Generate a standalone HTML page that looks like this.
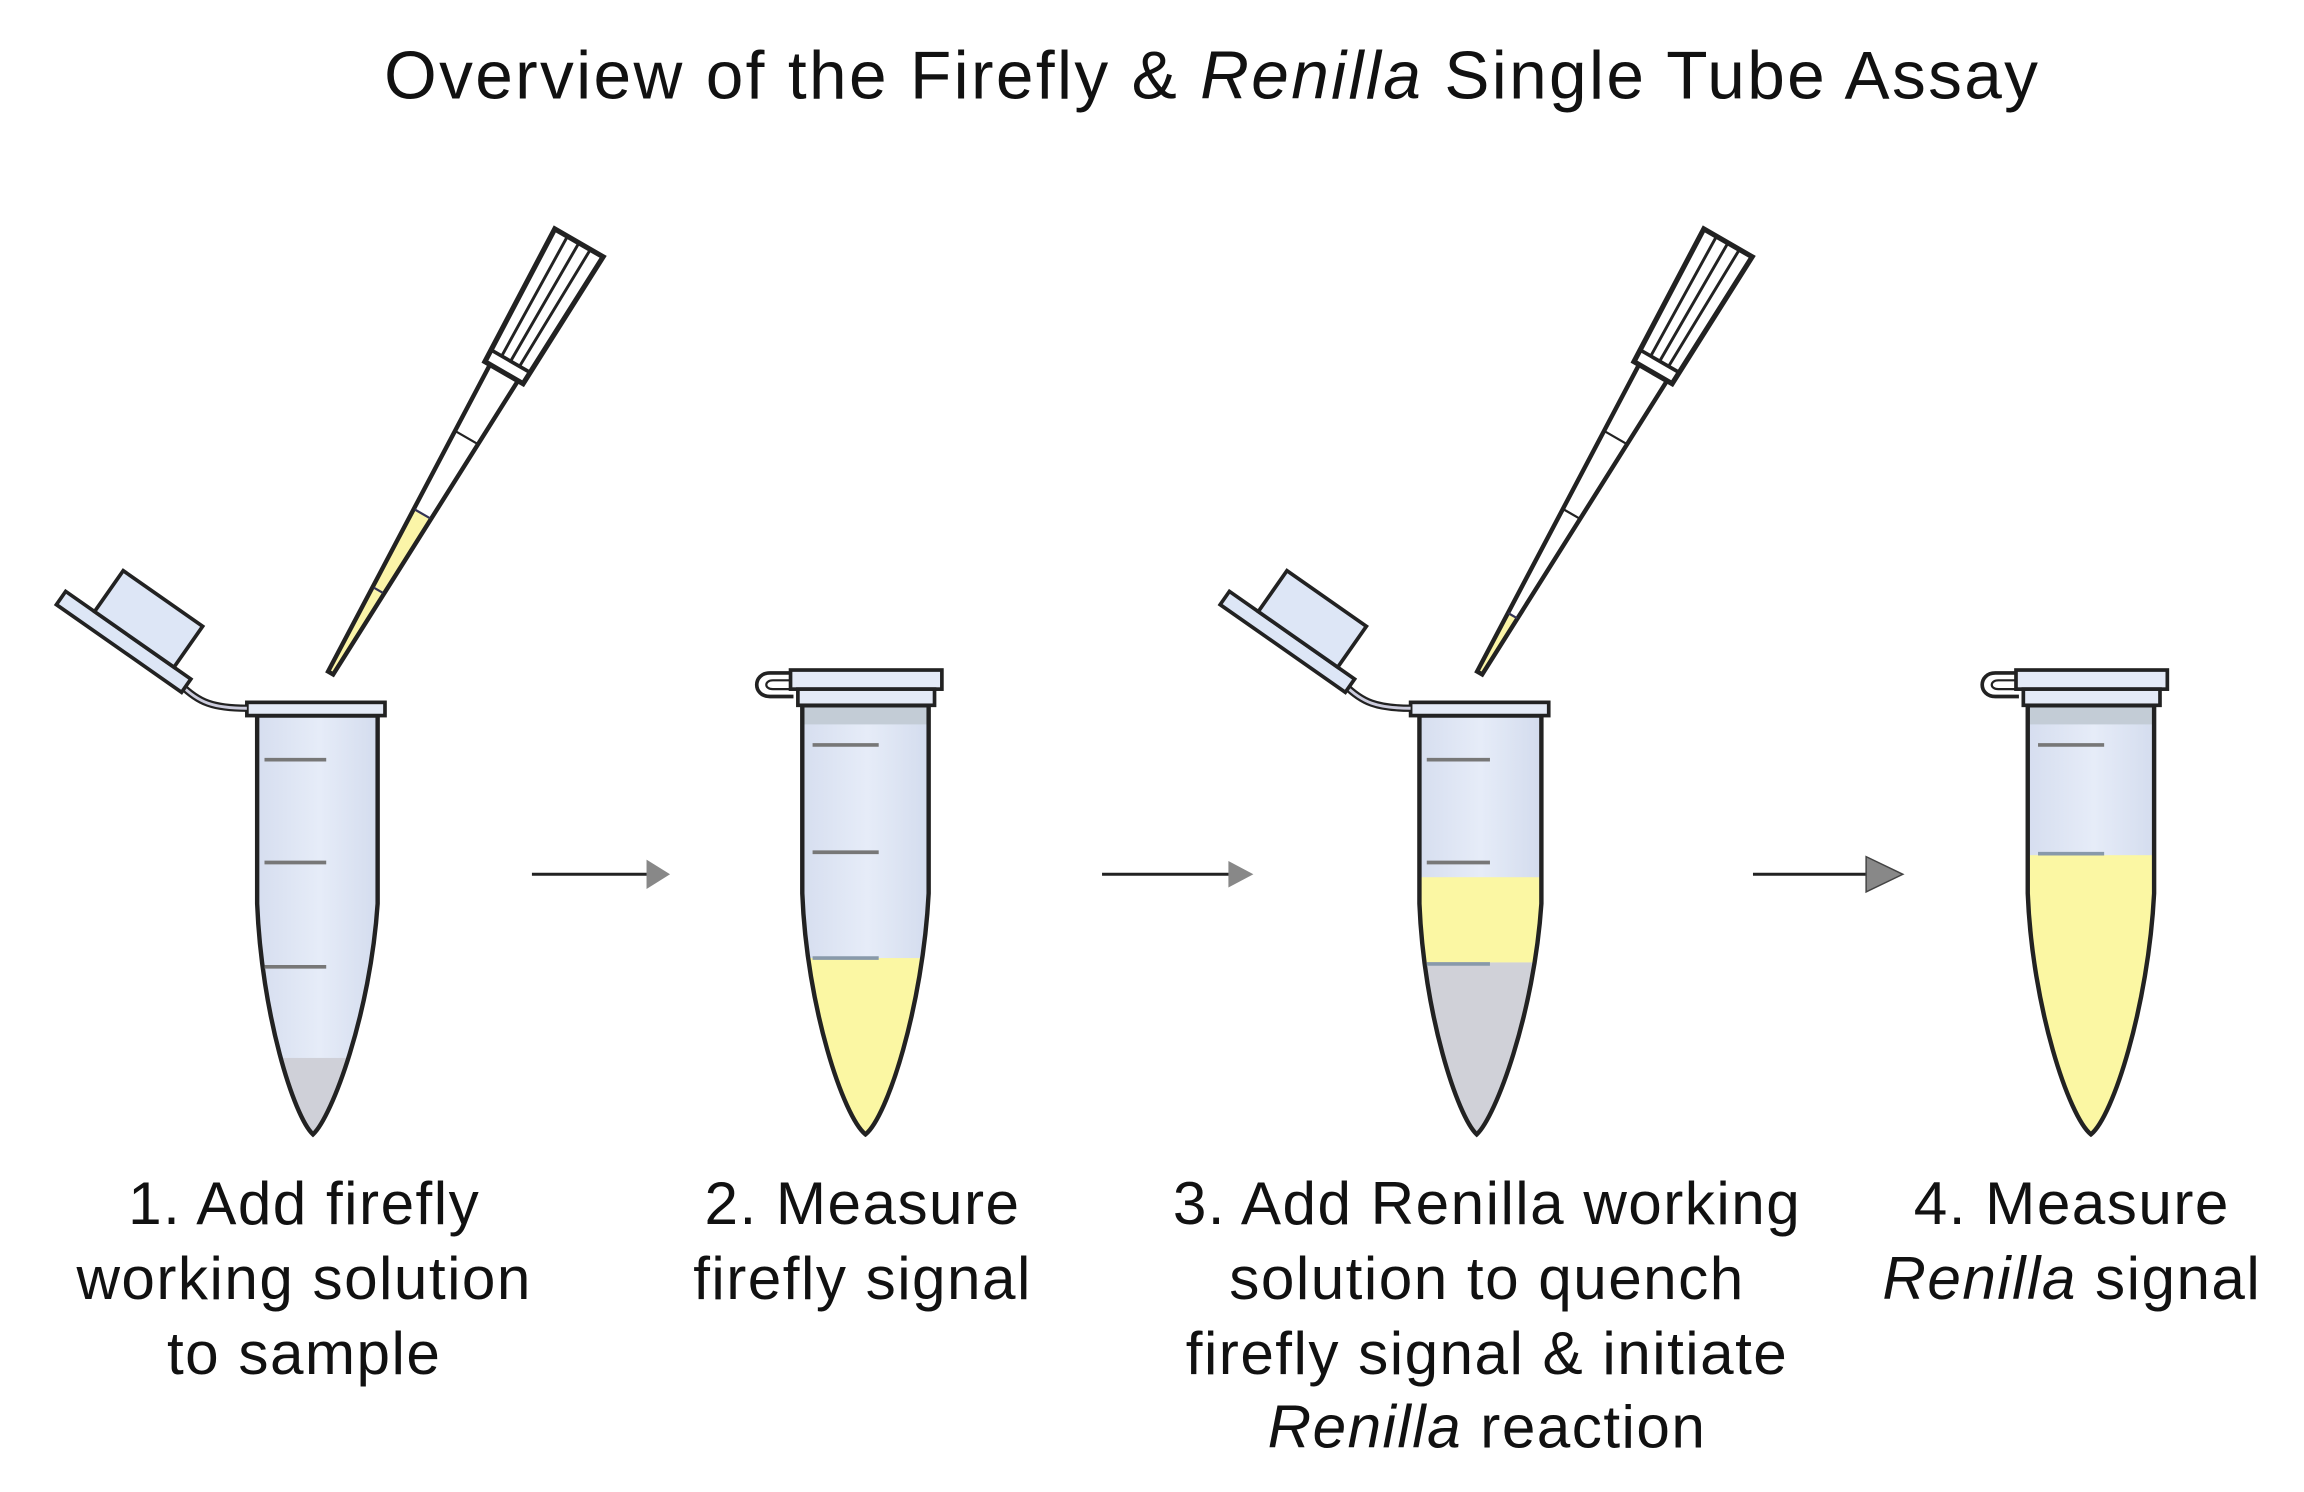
<!DOCTYPE html>
<html><head><meta charset="utf-8"><style>
html,body{margin:0;padding:0;background:#fff;}
svg{display:block}
text{font-family:"Liberation Sans",sans-serif;fill:#111;}
</style></head><body>
<svg width="2304" height="1492" viewBox="0 0 1568 1015.4" xmlns="http://www.w3.org/2000/svg">
<defs>
<linearGradient id="tb" x1="0" x2="1" y1="0" y2="0">
<stop offset="0" stop-color="#d4dcee"/><stop offset="0.5" stop-color="#e6ecf8"/><stop offset="1" stop-color="#d0d9ec"/>
</linearGradient>
<clipPath id="c1"><path d="M175,487 L175,615 C178,690 200,760 213,772 C226,760 252,690 257,615 L257,487 Z"/></clipPath>
<clipPath id="c2"><path d="M546,480 L546,608 C549,685 574,760 589,772 C604,760 628,685 632,608 L632,480 Z"/></clipPath>
<clipPath id="c3"><path d="M966,487 L966,615 C969,690 992,760 1005,772 C1018,760 1044,690 1049,615 L1049,487 Z"/></clipPath>
<clipPath id="c4"><path d="M1380,480 L1380,608 C1383,685 1408,760 1423,772 C1438,760 1462,685 1466,608 L1466,480 Z"/></clipPath>
</defs>

<text x="825" y="67" font-size="46" letter-spacing="1.6" text-anchor="middle">Overview of the Firefly &amp; <tspan font-style="italic">Renilla</tspan> Single Tube Assay</text>

<!-- Tube 1 -->
<g>
<g clip-path="url(#c1)">
<rect x="170" y="480" width="95" height="300" fill="url(#tb)"/>
<rect x="170" y="720" width="95" height="60" fill="#cfd0d8"/>
</g>
<path d="M175,487 L175,615 C178,690 200,760 213,772 C226,760 252,690 257,615 L257,487 Z" fill="none" stroke="#222" stroke-width="3"/>
<line x1="180" y1="517" x2="222" y2="517" stroke="#777" stroke-width="2.5"/>
<line x1="180" y1="587" x2="222" y2="587" stroke="#777" stroke-width="2.5"/>
<line x1="180" y1="658" x2="222" y2="658" stroke="#777" stroke-width="2.5"/>
<rect x="168" y="478" width="94" height="9" fill="#e4eaf6" stroke="#222" stroke-width="2.5"/>
<path d="M123,466 C135,478 145,482 168,482" fill="none" stroke="#222" stroke-width="5"/>
<path d="M123,466 C135,478 145,482 168,482" fill="none" stroke="#ccd" stroke-width="2"/>
<g transform="translate(84,430) rotate(35)">
<rect x="-48" y="0" width="104" height="11" fill="#dde6f6" stroke="#222" stroke-width="2.5"/>
<rect x="-24" y="-34" width="66" height="34" fill="#dde6f6" stroke="#222" stroke-width="2.5"/>
</g>
</g>

<!-- Pipette 1 -->
<g transform="translate(225,458) rotate(30)">
<path d="M-2,0 L2,0 L6.2,-125 L-6.2,-125 Z" fill="#fbf5a8"/>
<path d="M-2,0 L2,0 L11,-236 L-11,-236 Z" fill="none" stroke="#222" stroke-width="3"/>
<line x1="-6" y1="-125" x2="6" y2="-125" stroke="#335" stroke-width="1.5"/>
<line x1="-3.5" y1="-65" x2="3.5" y2="-65" stroke="#335" stroke-width="1.5"/>
<line x1="-8.5" y1="-185" x2="8.5" y2="-185" stroke="#222" stroke-width="1.5"/>
<path d="M-15,-236 L15,-236 L19,-338 L-19,-338 Z" fill="#fff" stroke="#222" stroke-width="3.5"/>
<line x1="-14" y1="-245" x2="14" y2="-245" stroke="#222" stroke-width="2.5"/>
<line x1="-7" y1="-245" x2="-9" y2="-338" stroke="#222" stroke-width="2"/>
<line x1="0" y1="-245" x2="0" y2="-338" stroke="#222" stroke-width="2"/>
<line x1="7" y1="-245" x2="9" y2="-338" stroke="#222" stroke-width="2"/>
</g>

<!-- Tube 2 -->
<g>
<g clip-path="url(#c2)">
<rect x="540" y="478" width="100" height="300" fill="url(#tb)"/>
<rect x="540" y="480" width="100" height="13" fill="#c3ccd6"/>
<rect x="540" y="652" width="100" height="130" fill="#fbf7a3"/>
</g>
<path d="M546,480 L546,608 C549,685 574,760 589,772 C604,760 628,685 632,608 L632,480 Z" fill="none" stroke="#222" stroke-width="3"/>
<line x1="553" y1="507" x2="598" y2="507" stroke="#777" stroke-width="2.5"/>
<line x1="553" y1="580" x2="598" y2="580" stroke="#777" stroke-width="2.5"/>
<line x1="553" y1="652" x2="598" y2="652" stroke="#8899aa" stroke-width="2.5"/>
<path d="M540,458 L524,458 C512,458 512,474 524,474 L540,474" fill="#fff" stroke="#222" stroke-width="2.5"/>
<path d="M540,463 L526,463 C520,463 520,469 526,469 L540,469" fill="none" stroke="#222" stroke-width="1.5"/>
<rect x="538" y="456" width="103" height="13" fill="#e4eaf6" stroke="#222" stroke-width="2.5"/>
<rect x="543" y="469" width="93" height="11" fill="#e4eaf6" stroke="#222" stroke-width="2.5"/>
</g>

<!-- Tube 3 -->
<g>
<g clip-path="url(#c3)">
<rect x="960" y="480" width="95" height="300" fill="url(#tb)"/>
<rect x="960" y="597" width="95" height="58" fill="#fbf7a3"/>
<rect x="960" y="655" width="95" height="125" fill="#d0d1d8"/>
</g>
<path d="M966,487 L966,615 C969,690 992,760 1005,772 C1018,760 1044,690 1049,615 L1049,487 Z" fill="none" stroke="#222" stroke-width="3"/>
<line x1="971" y1="517" x2="1014" y2="517" stroke="#777" stroke-width="2.5"/>
<line x1="971" y1="587" x2="1014" y2="587" stroke="#777" stroke-width="2.5"/>
<line x1="971" y1="656" x2="1014" y2="656" stroke="#8899aa" stroke-width="2.5"/>
<rect x="960" y="478" width="94" height="9" fill="#e4eaf6" stroke="#222" stroke-width="2.5"/>
<path d="M915,466 C927,478 937,482 960,482" fill="none" stroke="#222" stroke-width="5"/>
<path d="M915,466 C927,478 937,482 960,482" fill="none" stroke="#ccd" stroke-width="2"/>
<g transform="translate(876,430) rotate(35)">
<rect x="-48" y="0" width="104" height="11" fill="#dde6f6" stroke="#222" stroke-width="2.5"/>
<rect x="-24" y="-34" width="66" height="34" fill="#dde6f6" stroke="#222" stroke-width="2.5"/>
</g>
</g>

<!-- Pipette 2 -->
<g transform="translate(1007,458) rotate(30)">
<path d="M-2,0 L2,0 L3.5,-45 L-3.5,-45 Z" fill="#fbf5a8"/>
<path d="M-2,0 L2,0 L11,-236 L-11,-236 Z" fill="none" stroke="#222" stroke-width="3"/>
<line x1="-3.5" y1="-45" x2="3.5" y2="-45" stroke="#335" stroke-width="1.5"/>
<line x1="-6" y1="-125" x2="6" y2="-125" stroke="#222" stroke-width="1.5"/>
<line x1="-8.5" y1="-185" x2="8.5" y2="-185" stroke="#222" stroke-width="1.5"/>
<path d="M-15,-236 L15,-236 L19,-338 L-19,-338 Z" fill="#fff" stroke="#222" stroke-width="3.5"/>
<line x1="-14" y1="-245" x2="14" y2="-245" stroke="#222" stroke-width="2.5"/>
<line x1="-7" y1="-245" x2="-9" y2="-338" stroke="#222" stroke-width="2"/>
<line x1="0" y1="-245" x2="0" y2="-338" stroke="#222" stroke-width="2"/>
<line x1="7" y1="-245" x2="9" y2="-338" stroke="#222" stroke-width="2"/>
</g>

<!-- Tube 4 -->
<g>
<g clip-path="url(#c4)">
<rect x="1375" y="478" width="100" height="300" fill="url(#tb)"/>
<rect x="1375" y="480" width="100" height="13" fill="#c3ccd6"/>
<rect x="1375" y="582" width="100" height="200" fill="#fbf7a3"/>
</g>
<path d="M1380,480 L1380,608 C1383,685 1408,760 1423,772 C1438,760 1462,685 1466,608 L1466,480 Z" fill="none" stroke="#222" stroke-width="3"/>
<line x1="1387" y1="507" x2="1432" y2="507" stroke="#777" stroke-width="2.5"/>
<line x1="1387" y1="581" x2="1432" y2="581" stroke="#8899aa" stroke-width="2.5"/>
<path d="M1374,458 L1358,458 C1346,458 1346,474 1358,474 L1374,474" fill="#fff" stroke="#222" stroke-width="2.5"/>
<path d="M1374,463 L1360,463 C1354,463 1354,469 1360,469 L1374,469" fill="none" stroke="#222" stroke-width="1.5"/>
<rect x="1372" y="456" width="103" height="13" fill="#e4eaf6" stroke="#222" stroke-width="2.5"/>
<rect x="1377" y="469" width="93" height="11" fill="#e4eaf6" stroke="#222" stroke-width="2.5"/>
</g>

<!-- Arrows -->
<line x1="362" y1="595" x2="442" y2="595" stroke="#222" stroke-width="2"/>
<path d="M440,585 L456,595 L440,605 Z" fill="#888"/>
<line x1="750" y1="595" x2="838" y2="595" stroke="#222" stroke-width="2"/>
<path d="M836,586 L853,595 L836,604 Z" fill="#888"/>
<line x1="1193" y1="595" x2="1272" y2="595" stroke="#222" stroke-width="2"/>
<path d="M1270,583 L1295,595 L1270,607 Z" fill="#888" stroke="#444" stroke-width="1"/>

<!-- Labels -->
<g font-size="41" letter-spacing="1" text-anchor="middle">
<text x="207" y="833">1. Add firefly</text>
<text x="207" y="884">working solution</text>
<text x="207" y="935">to sample</text>
<text x="587" y="833">2. Measure</text>
<text x="587" y="884">firefly signal</text>
<text x="1012" y="833">3. Add Renilla working</text>
<text x="1012" y="884">solution to quench</text>
<text x="1012" y="935">firefly signal &amp; initiate</text>
<text x="1012" y="985"><tspan font-style="italic">Renilla</tspan> reaction</text>
<text x="1410" y="833">4. Measure</text>
<text x="1410" y="884"><tspan font-style="italic">Renilla</tspan> signal</text>
</g>
</svg>
</body></html>
